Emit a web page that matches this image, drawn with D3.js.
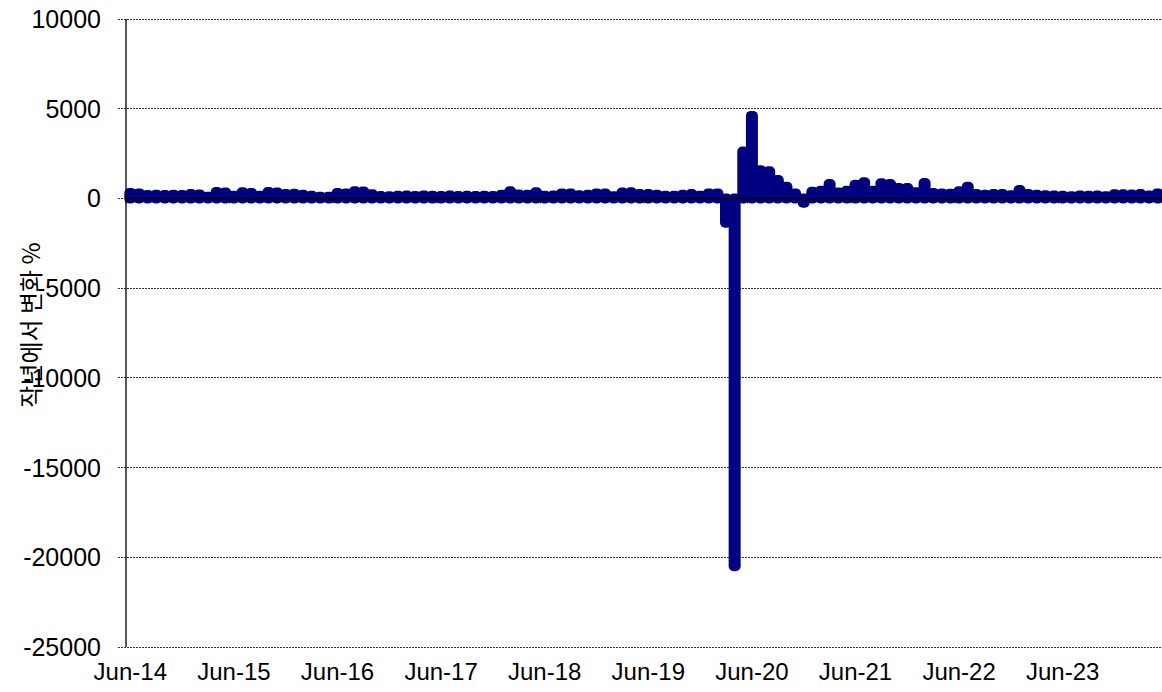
<!DOCTYPE html>
<html>
<head>
<meta charset="utf-8">
<script src="https://cdn.jsdelivr.net/npm/d3@7"></script>
<style>
  html, body { margin: 0; padding: 0; background: #fff; }
  svg { display: block; }
  text { font-family: "Liberation Sans", Arial, sans-serif; fill: #000; }
</style>
</head>
<body>
<svg id="chart" width="1162" height="692"></svg>
<script>
// Monthly categories Jun-14 .. May-24
const monthNames = ["Jan","Feb","Mar","Apr","May","Jun","Jul","Aug","Sep","Oct","Nov","Dec"];
const categories = [];
for (let i = 0; i < 120; i++) {
  const m = (5 + i) % 12;
  const yr = 14 + Math.floor((5 + i) / 12);
  categories.push(monthNames[m] + "-" + String(yr).padStart(2, "0"));
}

// Year-over-year change (%)
const values = [
  300, 280, 190, 200, 190, 200, 190, 250, 220, 100, 360, 330,   // Jun-14 .. May-15
  150, 340, 300, 150, 360, 330, 250, 260, 200, 150, 100, 100,   // Jun-15 .. May-16
  300, 280, 400, 380, 230, 140, 120, 150, 160, 130, 170, 150,   // Jun-16 .. May-17
  140, 160, 130, 150, 140, 150, 140, 210, 400, 220, 200, 340,   // Jun-17 .. May-18
  150, 160, 280, 270, 180, 200, 280, 270, 120, 330, 340, 240,   // Jun-18 .. May-19
  250, 200, 150, 150, 200, 245, 150, 280, 280, -1350, -20500, 2620, // Jun-19 .. May-20
  4600, 1570, 1510, 1025, 650, 280, -240, 370, 430, 800, 330, 430,  // Jun-20 .. May-21
  760, 900, 430, 840, 800, 580, 580, 350, 860, 300, 280, 260,   // Jun-21 .. May-22
  400, 650, 250, 200, 250, 250, 180, 470, 250, 200, 180, 160,   // Jun-22 .. May-23
  150, 120, 170, 150, 170, 120, 230, 230, 220, 250, 160, 280    // Jun-23 .. May-24
];

const yTicks = [10000, 5000, 0, -5000, -10000, -15000, -20000, -25000];
const xTickLabels = ["Jun-14","Jun-15","Jun-16","Jun-17","Jun-18","Jun-19","Jun-20","Jun-21","Jun-22","Jun-23"];
const yTitle = "작년에서 변화 %";

const svg = d3.select("#chart");
const plotLeft = 126, plotRight = 1162, plotTop = 19, plotBottom = 647;

const x = d3.scaleBand().domain(categories).range([plotLeft, plotRight]).paddingInner(0).paddingOuter(0);
const y = d3.scaleLinear().domain([-25000, 10000]).range([plotBottom, plotTop]);

// gridlines
svg.append("g").selectAll("line").data(yTicks).join("line")
  .attr("x1", plotLeft - 8).attr("x2", plotRight)
  .attr("y1", d => y(d)).attr("y2", d => y(d))
  .attr("stroke", "#333").attr("stroke-width", 1)
  .attr("stroke-dasharray", "2,1")
  .attr("shape-rendering", "crispEdges");

// y tick labels
svg.append("g").selectAll("text").data(yTicks).join("text")
  .attr("x", 101).attr("y", d => y(d))
  .attr("dy", "0.36em")
  .attr("text-anchor", "end")
  .style("font-size", "25px")
  .text(d => d);

// bars (thick rounded outline, as in the original)
const bw = 2;
svg.append("g").selectAll("rect").data(values).join("rect")
  .attr("x", (d, i) => x(categories[i]) + x.bandwidth() / 2 - bw / 2)
  .attr("width", bw)
  .attr("y", d => y(Math.max(0, d)))
  .attr("height", d => Math.abs(y(d) - y(0)))
  .attr("fill", "#000080")
  .attr("stroke", "#000080")
  .attr("stroke-width", 10)
  .attr("stroke-linejoin", "round");

// y axis line
svg.append("line")
  .attr("x1", plotLeft).attr("x2", plotLeft).attr("y1", plotTop).attr("y2", plotBottom)
  .attr("stroke", "#000").attr("stroke-width", 1.3);

// zero axis line
svg.append("line")
  .attr("x1", plotLeft).attr("x2", plotRight).attr("y1", y(0)).attr("y2", y(0))
  .attr("stroke", "#000").attr("stroke-width", 1.5);

// x major ticks at each June boundary
const tickCats = categories.filter(c => c.startsWith("Jun"));
svg.append("g").selectAll("line").data(tickCats).join("line")
  .attr("x1", d => x(d)).attr("x2", d => x(d))
  .attr("y1", y(0)).attr("y2", y(0) + 5)
  .attr("stroke", "#000").attr("stroke-width", 1);

// x labels (centered on June bars)
svg.append("g").selectAll("text").data(xTickLabels).join("text")
  .attr("x", d => x(d) + x.bandwidth() / 2)
  .attr("y", 680)
  .attr("text-anchor", "middle")
  .style("font-size", "24px")
  .text(d => d);

// y title
svg.append("text")
  .attr("transform", "translate(40," + 325 + ") rotate(-90)")
  .attr("text-anchor", "middle")
  .style("font-size", "24px")
  .style("font-family", "'Noto Sans CJK KR', 'Liberation Sans', sans-serif")
  .text(yTitle);
</script>
</body>
</html>
